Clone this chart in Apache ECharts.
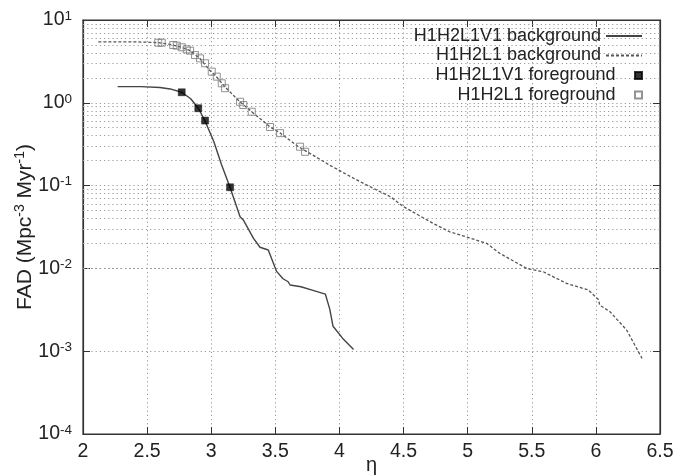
<!DOCTYPE html>
<html>
<head>
<meta charset="utf-8">
<script src="https://cdn.jsdelivr.net/npm/echarts@6/dist/echarts.min.js"></script>
<style>
html,body{margin:0;padding:0;background:#fff;}
#c{width:693px;height:475px;}
</style>
</head>
<body>
<div id="c"></div>
<script>
// ---- data ----
const xTicks = [2, 2.5, 3, 3.5, 4, 4.5, 5, 5.5, 6, 6.5];
const yDecades = [1e-4, 1e-3, 1e-2, 1e-1, 1, 10];

const bgV1_x = [2.27, 2.45, 2.6, 2.68, 2.77, 2.84, 2.90, 2.95, 3.02, 3.08, 3.147, 3.225, 3.25, 3.33, 3.38, 3.445, 3.51, 3.56, 3.60, 3.615, 3.70, 3.80, 3.89, 3.925, 3.95, 4.03, 4.11];
const bgV1_y = [1.57, 1.57, 1.53, 1.47, 1.34, 1.12, 0.86, 0.61, 0.34, 0.18, 0.095, 0.042, 0.0385, 0.023, 0.018, 0.0167, 0.0092, 0.0075, 0.0069, 0.0063, 0.0060, 0.0054, 0.0049, 0.0032, 0.0020, 0.0014, 0.00105];

const bgL1_x = [2.12, 2.4, 2.59, 2.70, 2.77, 2.835, 2.91, 2.99, 3.04, 3.10, 3.22, 3.32, 3.46, 3.54, 3.68, 3.80, 3.92, 4.08, 4.21, 4.40, 4.50, 4.73, 4.86, 4.99, 5.15, 5.25, 5.46, 5.59, 5.77, 5.94, 6.02, 6.03, 6.11, 6.24, 6.36];
const bgL1_y = [5.45, 5.45, 5.33, 5.0, 4.68, 4.26, 3.45, 2.45, 2.07, 1.6, 1.04, 0.77, 0.51, 0.43, 0.295, 0.23, 0.178, 0.13, 0.102, 0.073, 0.0556, 0.035, 0.0277, 0.024, 0.020, 0.0152, 0.010, 0.0091, 0.0066, 0.0055, 0.0042, 0.0036, 0.0030, 0.0018, 0.00082];

const fgV1_x = [2.770, 2.899, 2.952, 3.147];
const fgV1_y = [1.34, 0.86, 0.61, 0.0955];

const fgL1_x = [2.587, 2.614, 2.704, 2.731, 2.770, 2.809, 2.835, 2.874, 2.913, 2.952, 3.004, 3.043, 3.082, 3.108, 3.225, 3.250, 3.316, 3.459, 3.537, 3.693, 3.732];
const fgL1_y = [5.32, 5.32, 4.99, 4.90, 4.68, 4.42, 4.26, 3.77, 3.44, 3.00, 2.38, 2.07, 1.72, 1.50, 1.03, 0.94, 0.78, 0.51, 0.43, 0.295, 0.256];

const names = ['H1H2L1V1 background', 'H1H2L1 background', 'H1H2L1V1 foreground', 'H1H2L1 foreground'];
const minorMult = [2, 3, 4, 5, 6, 7, 8, 9];
// ---------------------------------------

const zip = (xs, ys) => xs.map((x, i) => [x, ys[i]]);
const FONT = 'Liberation Sans';
const minorLines = [];
yDecades.slice(0, -1).forEach(d => minorMult.forEach(m => minorLines.push({ yAxis: d * m })));

const grid = { left: 83, right: 33, top: 20, bottom: 41, show: true, borderColor: '#333', borderWidth: 1.2,
  backgroundColor: 'transparent', containLabel: false, outerBoundsMode: 'none' };
const gridLine = { show: true, lineStyle: { color: '#9a9a9a', type: [1.2, 3], width: 1 } };
const SQUARE = 'path://M0,0L10,0L10,10L0,10Z';

const expLabel = v => {
  const e = Math.round(Math.log10(v));
  return '{b|10}{e|' + e + '}';
};

const textStyle = { fontFamily: FONT, fontSize: 18, color: '#222', lineHeight: 20 };
const lineLegend = (name, top) => ({
  data: [name], orient: 'vertical', align: 'right', right: 50, top: top,
  padding: 0, itemWidth: 36, itemHeight: 14, selectedMode: false,
  itemStyle: { color: 'rgba(0,0,0,0)', borderColor: 'rgba(0,0,0,0)', borderWidth: 0, opacity: 0 },
  textStyle: textStyle
});
const symLegend = (name, top) => ({
  data: [{ name: name, icon: SQUARE }], orient: 'vertical', align: 'right', right: 50, top: top,
  padding: 0, itemWidth: 36, itemHeight: 7, selectedMode: false, symbolKeepAspect: true,
  textStyle: textStyle
});

const option = {
  animation: false,
  backgroundColor: '#fff',
  grid: grid,
  legend: [
    lineLegend(names[0], 26),
    lineLegend(names[1], 45.5),
    symLegend(names[2], 65.5),
    symLegend(names[3], 85)
  ],
  xAxis: [{
    type: 'value', min: 2, max: 6.5, interval: 0.5,
    name: 'η', nameLocation: 'middle', nameGap: 21, nameMoveOverlap: false,
    nameTextStyle: { fontFamily: FONT, fontSize: 20, color: '#222' },
    axisLine: { show: true, onZero: false, lineStyle: { color: '#333', width: 1.2 } },
    axisTick: { show: true, inside: true, length: 7, lineStyle: { color: '#333' } },
    axisLabel: { fontFamily: FONT, fontSize: 19.5, color: '#222', margin: 8,
      formatter: v => String(v) },
    splitLine: gridLine
  }, {
    type: 'value', min: 2, max: 6.5, interval: 0.5, position: 'top',
    axisLine: { show: true, onZero: false, lineStyle: { color: '#333', width: 1.2 } },
    axisTick: { show: true, inside: true, length: 7, lineStyle: { color: '#333' } },
    axisLabel: { show: false }, splitLine: { show: false }
  }],
  yAxis: [{
    type: 'log', logBase: 10, min: 1e-4, max: 10,
    name: '{a|FAD (Mpc}{s|-3}{a| Myr}{s|-1}{a|)}', nameLocation: 'middle', nameGap: 46, nameRotate: 90,
    nameMoveOverlap: false,
    nameTextStyle: { fontFamily: FONT, fontSize: 21, color: '#222',
      rich: {
        a: { fontFamily: FONT, fontSize: 21, color: '#222', lineHeight: 24 },
        s: { fontFamily: FONT, fontSize: 14, color: '#222', lineHeight: 14, verticalAlign: 'top' }
      } },
    axisLine: { show: true, onZero: false, lineStyle: { color: '#333', width: 1.2 } },
    axisTick: { show: true, inside: true, length: 7, lineStyle: { color: '#333' } },
    axisLabel: { fontFamily: FONT, fontSize: 19.5, color: '#222', margin: 11, formatter: expLabel,
      rich: {
        b: { fontFamily: FONT, fontSize: 19.5, color: '#222', lineHeight: 22 },
        e: { fontFamily: FONT, fontSize: 13.5, color: '#222', lineHeight: 13, verticalAlign: 'top' }
      } },
    splitLine: gridLine
  }, {
    type: 'log', logBase: 10, min: 1e-4, max: 10, position: 'right',
    axisLine: { show: true, onZero: false, lineStyle: { color: '#333', width: 1.2 } },
    axisTick: { show: true, inside: true, length: 7, lineStyle: { color: '#333' } },
    axisLabel: { show: false }, splitLine: { show: false }
  }],
  series: [{
    name: names[0], type: 'line', data: zip(bgV1_x, bgV1_y),
    symbol: 'none', showSymbol: false, smooth: false, z: 3,
    lineStyle: { color: '#444', width: 1.4, type: 'solid' },
    itemStyle: { color: '#444' },
    markLine: {
      silent: true, symbol: ['none', 'none'], label: { show: false },
      lineStyle: { color: '#9a9a9a', type: [1.2, 3], width: 1 },
      emphasis: { disabled: true },
      data: minorLines, z: 1
    }
  }, {
    name: names[1], type: 'line', data: zip(bgL1_x, bgL1_y),
    symbol: 'none', showSymbol: false, z: 3,
    lineStyle: { color: '#555', width: 1.3, type: [3, 2] },
    itemStyle: { color: '#555' }
  }, {
    name: names[2], type: 'scatter', data: zip(fgV1_x, fgV1_y),
    symbol: 'rect', symbolSize: 7, z: 5,
    itemStyle: { color: '#000', borderColor: '#000', borderWidth: 0.5 }
  }, {
    name: names[3], type: 'scatter', data: zip(fgL1_x, fgL1_y),
    symbol: 'rect', symbolSize: 7, z: 4,
    itemStyle: { color: 'rgba(255,255,255,0)', borderColor: '#777', borderWidth: 1 }
  }]
};

const chart = echarts.init(document.getElementById('c'), null, { renderer: 'canvas' });
chart.setOption(option);
</script>
</body>
</html>
